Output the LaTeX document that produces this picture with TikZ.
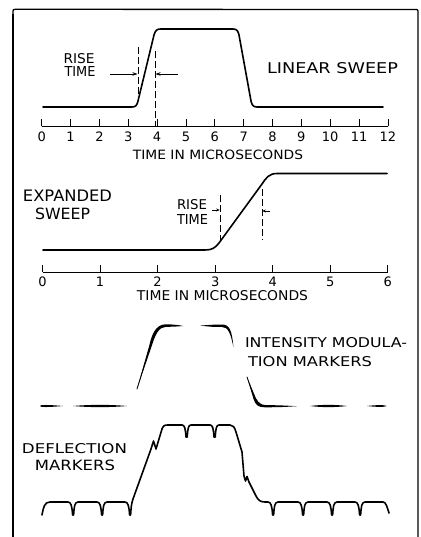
\documentclass[tikz,border=0pt]{standalone}
\usepackage{fontspec}
\setmainfont{DejaVu Sans}
\usetikzlibrary{arrows.meta}
\newcommand{\lbl}[3]{\resizebox{#1pt}{#2pt}{#3}}
\begin{document}
\begin{tikzpicture}[x=1pt,y=-1pt,
  trace/.style={line width=1.6pt, line join=round, line cap=round},
  thintrace/.style={line width=0.8pt, line cap=round},
  axisline/.style={line width=0.9pt},
  tick/.style={line width=0.8pt},
  dashline/.style={line width=0.7pt, dash pattern=on 7pt off 3pt},
  riser/.style={line width=0.7pt, -{Stealth[length=5pt,width=3.5pt]}},
  smallriser/.style={line width=0.7pt, -{Stealth[length=3.5pt,width=3pt]}},
  lab/.style={inner sep=0pt, outer sep=0pt},
  num/.style={inner sep=0pt, outer sep=0pt, font=\fontsize{13}{14}\selectfont},
  frame/.style={line width=1.3pt, line join=round}
]
\useasboundingbox (0,0) rectangle (420,537);

% frame
\draw[frame] (13,537) -- (13,11.5) .. controls (13,9.5) .. (15.5,9.3) -- (414.5,9.5) .. controls (418,9.5) .. (418,13) -- (418,537);
\draw[line width=1.9pt] (13,537) -- (13,14);

% ---------------- LINEAR SWEEP ----------------
\draw[trace] (43,107) -- (132,107) .. controls (136,107) and (137,105) .. (138,101)
  -- (154,35) .. controls (155.5,30) and (157,29) .. (161,29) -- (233,29)
  .. controls (237,29) and (238,31) .. (239,35) -- (251,101)
  .. controls (252,105) and (253,107) .. (257,107) -- (383,107);

\node[lab] (rise1) at (79,59) {\lbl{31}{10}{RISE}};
\node[lab] (time1) at (80,72) {\lbl{31}{10}{TIME}};
\node[lab] (lin) at (332.5,68.5) {\lbl{131}{11}{LINEAR SWEEP}};

\coordinate (d1a) at (138,47);
\coordinate (d1b) at (138,101);
\coordinate (d2a) at (155,51);
\coordinate (d2b) at (155,126);
\draw[dashline] (d1a) -- (d1b);
\draw[dashline] (d2a) -- (d2b);
\coordinate (a1s) at (110,74);
\coordinate (a1e) at (137.5,74);
\coordinate (a2s) at (178,74);
\coordinate (a2e) at (155.5,74);
\draw[riser] (a1s) -- (a1e);
\draw[riser] (a2s) -- (a2e);

% axis 1
\coordinate (ax1s) at (41.7,126.5);
\coordinate (ax1e) at (387.9,126.5);
\draw[axisline] (ax1s) -- (ax1e);
\foreach \k in {0,...,12}{
  \draw[tick] ({41.7+28.85*\k},126.5) -- ({41.7+28.85*\k},119);
  \node[num] (n1-\k) at ({41.7+28.85*\k},136.5) {\k};
}
\node[lab] (tim1) at (218,154.7) {\lbl{170}{9.5}{TIME IN MICROSECONDS}};

% ---------------- EXPANDED SWEEP ----------------
\draw[trace] (43,250) -- (205,250) .. controls (212,250) and (215,248) .. (219,243)
  -- (262,184) .. controls (266,178) and (269,173.5) .. (277,173.5) -- (387,173.5);

\node[lab] (exp) at (67.5,196) {\lbl{89}{11.5}{EXPANDED}};
\node[lab] (swp) at (62.5,214) {\lbl{55}{11.5}{SWEEP}};
\node[lab] (rise2) at (192,204.3) {\lbl{30}{10}{RISE}};
\node[lab] (time2) at (192.5,219) {\lbl{31}{10}{TIME}};

\coordinate (e1a) at (220,195);
\coordinate (e1b) at (220,240);
\coordinate (e2a) at (262,189);
\coordinate (e2b) at (262,240);
\draw[dashline] (e1a) -- (e1b);
\draw[dashline] (e2a) -- (e2b);
\coordinate (b1s) at (212,210);
\coordinate (b1e) at (219.7,210);
\coordinate (b2s) at (270,211);
\coordinate (b2e) at (262.3,211);
\draw[smallriser] (b1s) -- (b1e);
\draw[smallriser] (b2s) -- (b2e);

% axis 2
\coordinate (ax2s) at (42.5,272);
\coordinate (ax2e) at (387.8,272);
\draw[axisline] (ax2s) -- (ax2e);
\foreach \k in {0,...,6}{
  \draw[tick] ({42.5+57.55*\k},272) -- ({42.5+57.55*\k},265);
  \node[num] (n2-\k) at ({42.5+57.55*\k},282) {\k};
}
\node[lab] (tim2) at (222.5,296) {\lbl{171}{10}{TIME IN MICROSECONDS}};

% ---------------- INTENSITY MODULATION ----------------
\fill (40,406) .. controls (40,404.6) and (48,404.7) .. (63,406) .. controls (48,407.3) and (40,407.4) .. (40,406) -- cycle;
\fill (73,406) .. controls (90,404.5) and (110,404.5) .. (127,406) .. controls (110,407.5) and (90,407.5) .. (73,406) -- cycle;
% rise and first top dash
\draw[thintrace] (137,389) -- (150,347);
\fill (137,389) -- (149,346.5) .. controls (151.8,334.5) and (155.5,324.3) .. (166,324.3)
  .. controls (174,324.4) and (180,325.2) .. (183,326)
  .. controls (178,326.5) and (172,326.8) .. (166,326.8)
  .. controls (159,327) and (155.3,334) .. (151.3,347.3) -- cycle;
% second top dash with corner
\fill (200,325.6) .. controls (212,324.7) .. (222,324.5) .. controls (229.3,324.5) and (232,330) .. (233.4,347)
  .. controls (230.5,333) and (228,327) .. (222,327) .. controls (212,326.9) .. (200,325.6) -- cycle;
% fall and bottom dash
\draw[thintrace] (247,377) -- (254.6,399);
\fill (247,377) -- (253.6,399.2) .. controls (255.6,405) and (258,407.3) .. (265,407.3)
  .. controls (280,407.2) .. (297,406.2)
  .. controls (280,405.3) .. (266,405.1) .. controls (261,405) and (258.5,402.6) .. (256,398.4) -- cycle;
\fill (310,406) .. controls (322,404.5) and (335,404.5) .. (347,406) .. controls (335,407.5) and (322,407.5) .. (310,406) -- cycle;
\fill (367,406) .. controls (375,405.1) and (384,404.6) .. (387,406) .. controls (384,407.4) and (375,406.9) .. (367,406) -- cycle;

\node[lab] (int1) at (326,343) {\lbl{162}{10}{INTENSITY MODULA-}};
\node[lab] (int2) at (310,362) {\lbl{124}{10}{TION MARKERS}};

% ---------------- DEFLECTION MARKERS ----------------
\draw[trace] (42,515) .. controls (43.5,507) and (44.5,502) .. (50,502)
  -- (68,502) .. controls (71,502) and (72,506) .. (72.6,515) -- (73.6,515) .. controls (74.2,507) and (74.5,502) .. (78,502)
  -- (97,502) .. controls (100,502) and (101,506) .. (101.6,515) -- (102.6,515) .. controls (103.2,507) and (103.5,502) .. (107,502)
  -- (125,502) .. controls (128,502) and (129,506) .. (129.6,515) -- (130.6,515) .. controls (131,508) and (131.5,503) .. (133,499)
  -- (151,449) -- (153.5,441) -- (156,449) -- (162,429) .. controls (163.3,425.5) and (164.5,425) .. (168,425)
  -- (182,425) .. controls (184.5,425) and (185.4,428) .. (186,437) -- (187.2,437) .. controls (187.8,428) and (188.5,425) .. (191,425)
  -- (210,425) .. controls (212.5,425) and (213.4,428) .. (214,437) -- (215.2,437) .. controls (215.8,428) and (216.5,425) .. (219,425)
  -- (230,425) .. controls (233,425) and (234.5,427) .. (236,432)
  -- (242,452) -- (244,476) -- (245.5,481) -- (247,476.5) -- (249,482) -- (256,496)
  .. controls (258,500) and (260,502) .. (265,502)
  -- (268,502) .. controls (271,502) and (272,506) .. (272.6,515) -- (273.6,515) .. controls (274.2,507) and (274.5,502) .. (278,502)
  -- (298,502) .. controls (301,502) and (302,506) .. (302.6,515) -- (303.6,515) .. controls (304.2,507) and (304.5,502) .. (308,502)
  -- (327,502) .. controls (330,502) and (331,506) .. (331.6,515) -- (332.6,515) .. controls (333.2,507) and (333.5,502) .. (337,502)
  -- (355,502) .. controls (358,502) and (359,506) .. (359.6,515) -- (360.6,515) .. controls (361.2,507) and (361.5,502) .. (365,502)
  -- (383,502) .. controls (386,502) and (387,507) .. (389,513);

\node[lab] (def1) at (74.5,448.3) {\lbl{105}{10}{DEFLECTION}};
\node[lab] (def2) at (75,465.3) {\lbl{80}{10.5}{MARKERS}};
\end{tikzpicture}
\end{document}
